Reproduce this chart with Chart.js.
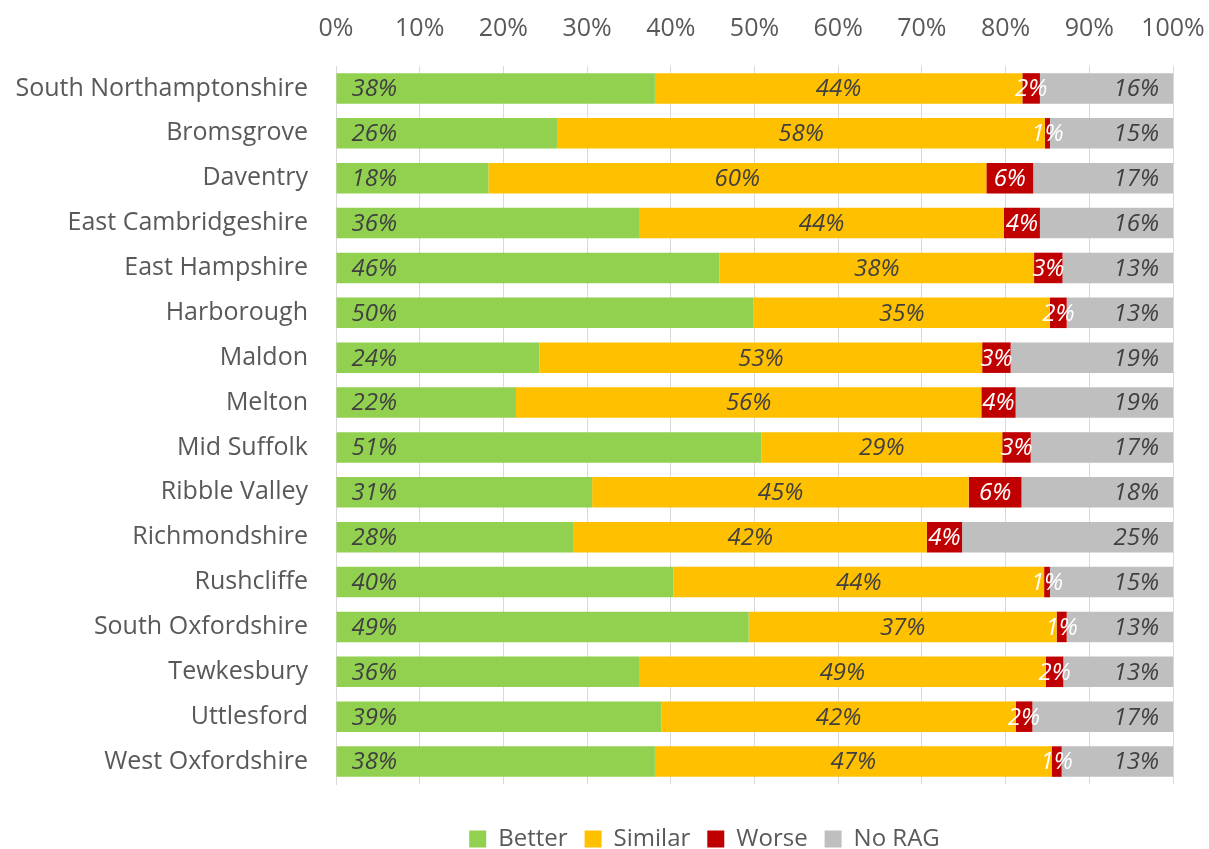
<!DOCTYPE html>
<html>
<head>
<meta charset="utf-8">
<script src="https://cdn.jsdelivr.net/npm/chart.js@4.4.0/dist/chart.umd.min.js"></script>
<style>
  html, body { margin: 0; padding: 0; background: #fff; }
  #wrap { width: 1209px; height: 849px; }
</style>
</head>
<body>
<div id="wrap"><canvas id="ragChart"></canvas></div>
<script>
// Districts (top to bottom)
const districts = ['South Northamptonshire', 'Bromsgrove', 'Daventry', 'East Cambridgeshire', 'East Hampshire',
    'Harborough', 'Maldon', 'Melton', 'Mid Suffolk', 'Ribble Valley', 'Richmondshire', 'Rushcliffe',
    'South Oxfordshire', 'Tewkesbury', 'Uttlesford', 'West Oxfordshire'];

// Share of indicators in each RAG group (%)
const better  = [38.1, 26.4, 18.2, 36.2, 45.8, 49.9, 24.3, 21.5, 50.8, 30.6, 28.4, 40.3, 49.3, 36.2, 38.9, 38.1];
const similar = [43.9, 58.3, 59.5, 43.6, 37.6, 35.4, 52.9, 55.6, 28.8, 45.0, 42.2, 44.3, 36.8, 48.6, 42.3, 47.4];
const worse   = [2.1, 0.6, 5.6, 4.3, 3.4, 2.0, 3.4, 4.1, 3.4, 6.3, 4.2, 0.7, 1.2, 2.1, 2.0, 1.2];
const noRag   = [15.9, 14.7, 16.7, 15.9, 13.2, 12.7, 19.4, 18.8, 17.0, 18.1, 25.2, 14.7, 12.7, 13.1, 16.8, 13.3];

const xTicks = [0, 10, 20, 30, 40, 50, 60, 70, 80, 90, 100];

const FONT = "'Open Sans', 'DejaVu Sans', sans-serif";

// draw the % labels inside each segment
const segLabels = {
    id: 'segLabels',
    afterDatasetsDraw(chart) {
        const ctx = chart.ctx;
        ctx.save();
        ctx.font = 'italic 24px ' + FONT;
        ctx.textBaseline = 'middle';
        chart.data.datasets.forEach((ds, di) => {
            const meta = chart.getDatasetMeta(di);
            meta.data.forEach((bar, i) => {
                const txt = Math.round(ds.data[i]) + '%';
                const left = Math.min(bar.x, bar.base);
                const right = Math.max(bar.x, bar.base);
                ctx.fillStyle = ds.labelColor;
                if (di === 0) {
                    ctx.textAlign = 'left';
                    ctx.fillText(txt, left + 15, bar.y + 1);
                } else if (di === 3) {
                    ctx.textAlign = 'right';
                    ctx.fillText(txt, right - 14, bar.y + 1);
                } else {
                    ctx.textAlign = 'center';
                    ctx.fillText(txt, (left + right) / 2, bar.y + 1);
                }
            });
        });
        ctx.restore();
    }
};

// legend sits right of the canvas centre and close to the bottom in the original
const legendShift = {
    id: 'legendShift',
    afterLayout(chart) {
        const lg = chart.legend;
        lg.left += 118;
        lg.right += 118;
        lg.top += 26;
        lg.bottom += 26;
    }
};

const ctx = document.getElementById('ragChart').getContext('2d');
new Chart(ctx, {
    type: 'bar',
    data: {
        labels: districts,
        datasets: [
            { label: 'Better', data: better, backgroundColor: '#92D050', labelColor: '#404040' },
            { label: 'Similar', data: similar, backgroundColor: '#FFC000', labelColor: '#404040' },
            { label: 'Worse', data: worse, backgroundColor: '#C00000', labelColor: '#ffffff' },
            { label: 'No RAG', data: noRag, backgroundColor: '#BFBFBF', labelColor: '#404040' }
        ]
    },
    options: {
        indexAxis: 'y',
        responsive: true,
        maintainAspectRatio: false,
        animation: false,
        layout: { padding: { left: 0, right: 36, top: 8, bottom: 14 } },
        datasets: {
            bar: { categoryPercentage: 1, barPercentage: 0.68, borderWidth: 0 }
        },
        plugins: {
            legend: {
                position: 'bottom',
                labels: {
                    font: { family: FONT, size: 24 },
                    color: '#595959',
                    boxWidth: 17,
                    boxHeight: 17,
                    padding: 17
                }
            },
            tooltip: { enabled: false }
        },
        scales: {
            x: {
                position: 'top',
                stacked: true,
                min: 0,
                max: 100,
                afterBuildTicks: axis => { axis.ticks = xTicks.map(v => ({ value: v })); },
                afterFit: axis => {
                    axis.height = 58;
                    axis.paddingLeft = 0;
                    axis.paddingRight = 0;
                },
                ticks: {
                    callback: v => v + '%',
                    font: { family: FONT, size: 25 },
                    color: '#595959',
                    padding: 22
                },
                grid: { color: '#D9D9D9', lineWidth: 1, drawTicks: false },
                border: { display: false }
            },
            y: {
                stacked: true,
                afterFit: axis => { axis.width = 336; },
                ticks: {
                    font: { family: FONT, size: 25 },
                    color: '#595959',
                    padding: 20
                },
                grid: { display: false },
                border: { display: true, color: '#D9D9D9' }
            }
        }
    },
    plugins: [segLabels, legendShift]
});
</script>
</body>
</html>
